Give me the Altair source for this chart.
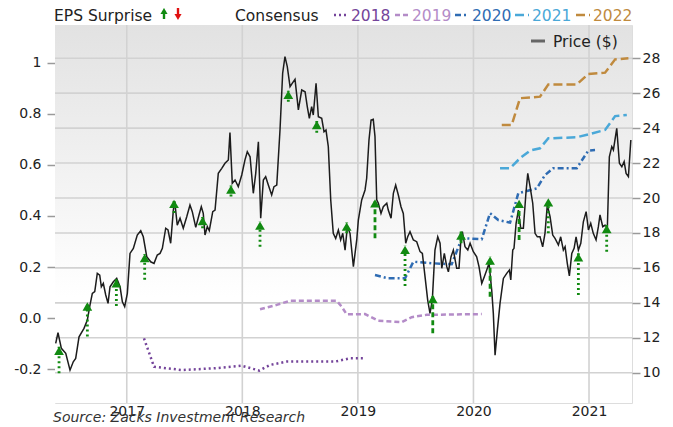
import altair as alt
import pandas as pd

# ---------------- data ----------------
price_t = [2016.385, 2016.405, 2016.434, 2016.472, 2016.509, 2016.537, 2016.558, 2016.587, 2016.630, 2016.659,
           2016.682, 2016.702, 2016.723, 2016.745, 2016.766, 2016.780, 2016.797, 2016.818, 2016.838, 2016.855,
           2016.884, 2016.913, 2016.942, 2016.962, 2016.982, 2017.005, 2017.028, 2017.057, 2017.091, 2017.121,
           2017.143, 2017.173, 2017.207, 2017.236, 2017.264, 2017.288, 2017.308, 2017.337, 2017.357, 2017.380,
           2017.403, 2017.415, 2017.437, 2017.461, 2017.489, 2017.519, 2017.547, 2017.567, 2017.597, 2017.625,
           2017.645, 2017.662, 2017.677, 2017.697, 2017.714, 2017.744, 2017.764, 2017.792, 2017.822, 2017.850,
           2017.879, 2017.893, 2017.913, 2017.937, 2017.965, 2017.995, 2018.023, 2018.043, 2018.067, 2018.095,
           2018.116, 2018.139, 2018.159, 2018.182, 2018.202, 2018.225, 2018.254, 2018.274, 2018.298, 2018.326,
           2018.349, 2018.369, 2018.389, 2018.413, 2018.433, 2018.456, 2018.485, 2018.514, 2018.543, 2018.562,
           2018.580, 2018.600, 2018.614, 2018.638, 2018.658, 2018.687, 2018.707, 2018.724, 2018.744, 2018.765,
           2018.787, 2018.808, 2018.831, 2018.851, 2018.869, 2018.889, 2018.909, 2018.932, 2018.961, 2018.990,
           2019.004, 2019.033, 2019.062, 2019.076, 2019.096, 2019.114, 2019.133, 2019.148, 2019.163, 2019.177,
           2019.200, 2019.220, 2019.250, 2019.263, 2019.287, 2019.307, 2019.327, 2019.350, 2019.373, 2019.393,
           2019.414, 2019.431, 2019.451, 2019.480, 2019.509, 2019.538, 2019.558, 2019.581, 2019.604, 2019.624,
           2019.644, 2019.667, 2019.691, 2019.711, 2019.726, 2019.748, 2019.769, 2019.783, 2019.806, 2019.826,
           2019.855, 2019.875, 2019.893, 2019.904, 2019.927, 2019.951, 2019.971, 2019.999, 2020.028, 2020.048,
           2020.072, 2020.094, 2020.115, 2020.135, 2020.158, 2020.172, 2020.187, 2020.207, 2020.230, 2020.259,
           2020.288, 2020.311, 2020.323, 2020.340, 2020.351, 2020.369, 2020.389, 2020.409, 2020.432, 2020.455,
           2020.470, 2020.490, 2020.513, 2020.533, 2020.553, 2020.576, 2020.599, 2020.619, 2020.639, 2020.663,
           2020.686, 2020.706, 2020.735, 2020.755, 2020.778, 2020.793, 2020.812, 2020.830, 2020.851, 2020.871,
           2020.888, 2020.908, 2020.929, 2020.951, 2020.975, 2020.995, 2021.015, 2021.037, 2021.061, 2021.081,
           2021.095, 2021.119, 2021.139, 2021.159, 2021.176, 2021.197, 2021.211, 2021.240, 2021.263, 2021.284,
           2021.304, 2021.321, 2021.341, 2021.362]
price_v = [11.68, 12.29, 11.40, 11.11, 10.15, 10.63, 10.82, 12.06, 12.54, 13.02,
           13.88, 14.54, 14.64, 15.69, 15.59, 14.92, 15.12, 14.45, 13.97, 14.92,
           15.21, 15.40, 14.92, 14.06, 13.78, 14.54, 16.83, 17.12, 17.88, 18.13,
           17.78, 16.64, 16.35, 16.26, 16.74, 16.83, 17.12, 18.27, 18.17, 17.41,
           19.31, 19.79, 18.45, 18.84, 18.27, 18.93, 19.60, 19.22, 18.32, 19.03,
           19.50, 19.12, 17.88, 18.36, 18.13, 19.22, 19.31, 21.41, 21.70, 21.99,
           22.18, 23.74, 20.84, 21.03, 20.65, 21.32, 22.18, 22.65, 22.36, 20.27,
           21.41, 23.22, 18.84, 21.03, 21.22, 20.74, 20.17, 20.65, 20.74, 23.89,
           27.14, 28.09, 27.52, 26.37, 26.57, 26.79, 25.04, 26.18, 26.08, 25.23,
           24.56, 25.23, 24.75, 26.57, 24.65, 24.56, 23.79, 23.89, 22.94, 19.89,
           17.98, 17.69, 18.17, 17.60, 17.98, 17.02, 18.36, 17.98, 16.07, 17.60,
           18.74, 19.89, 20.46, 21.13, 23.32, 24.46, 24.50, 23.51, 19.89, 19.70,
           19.12, 19.50, 19.70, 19.31, 18.84, 20.27, 20.74, 20.17, 19.50, 19.12,
           17.41, 17.78, 18.07, 17.60, 17.50, 16.93, 16.83, 15.50, 14.16, 13.40,
           14.16, 17.02, 17.78, 17.41, 15.98, 16.83, 16.07, 15.78, 16.64, 17.02,
           15.98, 15.98, 17.78, 18.07, 17.21, 17.02, 17.41, 16.93, 16.64, 16.07,
           15.12, 15.50, 15.88, 16.26, 14.73, 13.40, 11.01, 12.44, 13.97, 15.40,
           15.69, 15.88, 15.31, 17.02, 17.12, 18.55, 19.31, 18.27, 18.27, 20.36,
           21.41, 20.65, 19.70, 17.98, 17.78, 17.78, 17.21, 17.98, 19.60, 18.93,
           17.88, 17.69, 17.31, 17.78, 17.02, 17.21, 16.26, 15.54, 16.83, 17.12,
           17.78, 17.02, 17.41, 18.64, 19.22, 18.17, 18.55, 17.98, 17.60, 18.36,
           19.03, 18.36, 18.45, 18.36, 22.36, 22.94, 22.75, 23.99, 21.99, 21.79,
           22.08, 21.41, 21.22, 23.32]
assert len(price_t) == len(price_v), f"{len(price_t)} vs {len(price_v)}"

cons_2018_t = [2017.149, 2017.236, 2017.475, 2017.764, 2017.995, 2018.147, 2018.240, 2018.384, 2018.802, 2018.932, 2019.062]
cons_2018_v = [-0.079, -0.190, -0.203, -0.196, -0.186, -0.205, -0.183, -0.170, -0.170, -0.157, -0.157]
cons_2019_t = [2018.153, 2018.298, 2018.413, 2018.817, 2018.860, 2018.903, 2019.062, 2019.177, 2019.379, 2019.466, 2019.596, 2020.072]
cons_2019_v = [0.035, 0.052, 0.068, 0.068, 0.045, 0.015, 0.016, -0.010, -0.016, 0.004, 0.013, 0.016]
cons_2020_t = [2019.148, 2019.263, 2019.408, 2019.480, 2019.639, 2019.812, 2019.899, 2020.072, 2020.143, 2020.215,
               2020.317, 2020.388, 2020.548, 2020.619, 2020.691, 2020.894, 2020.994, 2021.052]
cons_2020_v = [0.169, 0.156, 0.156, 0.221, 0.215, 0.211, 0.313, 0.309, 0.411, 0.384,
               0.374, 0.489, 0.508, 0.560, 0.587, 0.587, 0.656, 0.658]
cons_2021_t = [2020.230, 2020.317, 2020.403, 2020.490, 2020.576, 2020.648, 2020.894, 2021.009, 2021.139, 2021.226, 2021.327]
cons_2021_v = [0.587, 0.587, 0.626, 0.656, 0.665, 0.704, 0.708, 0.721, 0.737, 0.791, 0.795]
cons_2022_t = [2020.245, 2020.331, 2020.403, 2020.576, 2020.648, 2020.894, 2020.994, 2021.139, 2021.226, 2021.341]
cons_2022_v = [0.756, 0.756, 0.861, 0.867, 0.915, 0.915, 0.956, 0.961, 1.013, 1.017]

surprise_t = [2016.414, 2016.659, 2016.910, 2017.155, 2017.409, 2017.656, 2017.902, 2018.153, 2018.398, 2018.644,
              2018.903, 2019.148, 2019.408, 2019.648, 2019.893, 2020.144, 2020.395, 2020.648, 2020.908, 2021.153]
surprise_from = [-0.216, -0.072, 0.048, 0.150, 0.412, 0.352, 0.476, 0.280, 0.847, 0.726,
                 0.332, 0.313, 0.126, -0.059, 0.293, 0.084, 0.306, 0.332, 0.091, 0.260]
surprise_to = [-0.112, 0.061, 0.152, 0.251, 0.463, 0.396, 0.519, 0.378, 0.890, 0.772,
               0.374, 0.465, 0.283, 0.091, 0.339, 0.241, 0.463, 0.469, 0.254, 0.365]
surprise_style = ["dashed", "dashed", "dashed", "dashed", "dashed", "dashed", "dashed", "dashed", "dashed", "dashed",
                  "dashed", "solid", "dashed", "solid", "solid", "solid", "solid", "dashed", "dashed", "dashed"]

year_ticks = [2017, 2018, 2019, 2020, 2021]
eps_ticks = [-0.2, 0.0, 0.2, 0.4, 0.6, 0.8, 1.0]
price_ticks = [10, 12, 14, 16, 18, 20, 22, 24, 26, 28]
series_names = ["2018", "2019", "2020", "2021", "2022"]
series_colors = ["#74449a", "#b48cc8", "#2f6cb3", "#4aa8d8", "#c08a3e"]
series_dash = [[2, 3], [5, 3], [6, 3, 2, 3], [9, 4], [9, 4]]

# ---------------- build tables ----------------
price_df = pd.DataFrame({"t": price_t, "price": price_v})
cons_rows = []
for name, ts, vs in zip(series_names,
                        [cons_2018_t, cons_2019_t, cons_2020_t, cons_2021_t, cons_2022_t],
                        [cons_2018_v, cons_2019_v, cons_2020_v, cons_2021_v, cons_2022_v]):
    for t, v in zip(ts, vs):
        cons_rows.append({"series": name, "t": t, "eps": v})
cons_df = pd.DataFrame(cons_rows)
surp_df = pd.DataFrame({"t": surprise_t, "from": surprise_from, "to": surprise_to, "style": surprise_style})
year_df = pd.DataFrame({"t": year_ticks})
price_grid_df = pd.DataFrame({"price": price_ticks})

FONT = "DejaVu Sans"
W, H = 577, 378
X_DOM = [2016.379, 2021.372]
EPS_DOM = [-0.332, 1.1475]
PRICE_DOM = [8.27, 29.90]
GREEN = "#118a11"
GRID = "#d2d2d2"

x_scale = alt.Scale(domain=X_DOM, nice=False, zero=False)
x_axis = alt.Axis(values=year_ticks, format="d", title=None, grid=False, ticks=False, domain=False,
                  labelPadding=1, labelFontSize=14, labelFont=FONT, labelColor="#222")
eps_scale = alt.Scale(domain=EPS_DOM, nice=False, zero=False)
price_scale = alt.Scale(domain=PRICE_DOM, nice=False, zero=False)
one = alt.Data(values=[{}])


def xq(field):
    return alt.X(field, type="quantitative", scale=x_scale, axis=x_axis)


# background gradient and grid lines
background = alt.Chart(one).mark_rect(
    fill=alt.LinearGradient(gradient="linear",
                            stops=[alt.GradientStop(offset=0, color="#e2e2e2"),
                                   alt.GradientStop(offset=0.72, color="#ffffff"),
                                   alt.GradientStop(offset=1, color="#ffffff")],
                            x1=0, x2=0, y1=0, y2=1)
).encode(x=alt.value(0), x2=alt.value(W), y=alt.value(0), y2=alt.value(H))

vgrid = alt.Chart(year_df).mark_rule(color=GRID, strokeWidth=1.6).encode(x=xq("t"))
hgrid = alt.Chart(price_grid_df).mark_rule(color=GRID, strokeWidth=1.6).encode(
    y=alt.Y("price:Q", scale=price_scale, axis=None))

consensus = alt.Chart(cons_df).mark_line(strokeWidth=2.5, strokeCap="butt").encode(
    x=xq("t"),
    y=alt.Y("eps:Q", scale=eps_scale,
            axis=alt.Axis(orient="left", values=eps_ticks, title=None, grid=False, domain=False,
                          tickSize=8, tickColor="#9a9a9a", tickWidth=1.5, labelPadding=6, labelFontSize=14,
                          labelFont=FONT, labelColor="#222",
                          labelExpr="datum.value == 1 ? '1' : replace(format(datum.value, '.1f'), '−', '-')")),
    color=alt.Color("series:N", scale=alt.Scale(domain=series_names, range=series_colors), legend=None),
    strokeDash=alt.StrokeDash("series:N", scale=alt.Scale(domain=series_names, range=series_dash), legend=None),
)

price = alt.Chart(price_df).mark_line(color="#1c1c1c", strokeWidth=1.5).encode(
    x=xq("t"),
    y=alt.Y("price:Q", scale=price_scale,
            axis=alt.Axis(orient="right", values=price_ticks, title=None, grid=False,
                          domain=False, tickSize=8, tickColor="#9a9a9a", tickWidth=1.5,
                          labelPadding=2, labelFontSize=14, labelFont=FONT, labelColor="#222")),
)

shafts = alt.Chart(surp_df).mark_rule(color=GREEN, strokeWidth=2.8).encode(
    x=xq("t"),
    y=alt.Y("from:Q", scale=eps_scale, axis=None),
    y2="to:Q",
    strokeDash=alt.StrokeDash("style:N", scale=alt.Scale(domain=["dashed", "solid"], range=[[4, 2], [1, 0]]),
                              legend=None),
)
heads = alt.Chart(surp_df).mark_point(shape="triangle-up", filled=True, size=95, opacity=1,
                                      color=GREEN, yOffset=4).encode(
    x=xq("t"),
    y=alt.Y("to:Q", scale=eps_scale, axis=None),
)


# ---------------- legend decorations (layout only) ----------------
def label(text, x, y, color="#222", size=15.5, align="left", **kw):
    return alt.Chart(one).mark_text(text=text, align=align, baseline="alphabetic", font=FONT, fontSize=size,
                                    color=color, **kw).encode(x=alt.value(x), y=alt.value(y))


def swatch(x1, x2, y, color, dash, width=2.5):
    return alt.Chart(one).mark_rule(color=color, strokeWidth=width, strokeDash=dash, strokeCap="butt").encode(
        x=alt.value(x1), x2=alt.value(x2), y=alt.value(y))


def vrule(x, y1, y2, color, width=2.4):
    return alt.Chart(one).mark_rule(color=color, strokeWidth=width).encode(
        x=alt.value(x), y=alt.value(y1), y2=alt.value(y2))


def tri(x, y, shape, color, size=50):
    return alt.Chart(one).mark_point(shape=shape, filled=True, opacity=1, size=size, color=color).encode(
        x=alt.value(x), y=alt.value(y))


ROW = -4.5  # baseline of the top legend row, relative to the plot's top edge
legend_layers = [
    label("EPS Surprise", -1, ROW),
    vrule(109, -6, -13, GREEN), tri(109, -14, "triangle-up", GREEN),
    vrule(123, -17, -10, "#e01010"), tri(123, -8, "triangle-down", "#e01010"),
    label("Consensus", 180, ROW),
]
sw_x = [279, 340, 400, 460, 521]
for name, col, dash, sx in zip(series_names, series_colors, series_dash, sw_x):
    legend_layers.append(swatch(sx, sx + 14, -10, col, dash))
    legend_layers.append(label(name, sx + 17, ROW, color=col))
legend_layers.append(swatch(476, 490, 16, "#666", [1, 0], width=3))
legend_layers.append(label("Price ($)", 498, 21.5))
legend_layers.append(label("Source: Zacks Investment Research", -2, 397, color="#333", size=14,
                           fontStyle="italic"))

chart = alt.layer(background, vgrid, hgrid, consensus, price, shafts, heads, *legend_layers).resolve_scale(
    y="independent").properties(
    width=W, height=H,
    autosize=alt.AutoSizeParams(type="none"),
    padding={"left": 47, "top": 17, "right": 33, "bottom": 24},
).configure_view(stroke="#b4b4b4", strokeWidth=1.5).configure(background="white")

chart.save("out.html", embed_options={"renderer": "svg", "actions": False})
